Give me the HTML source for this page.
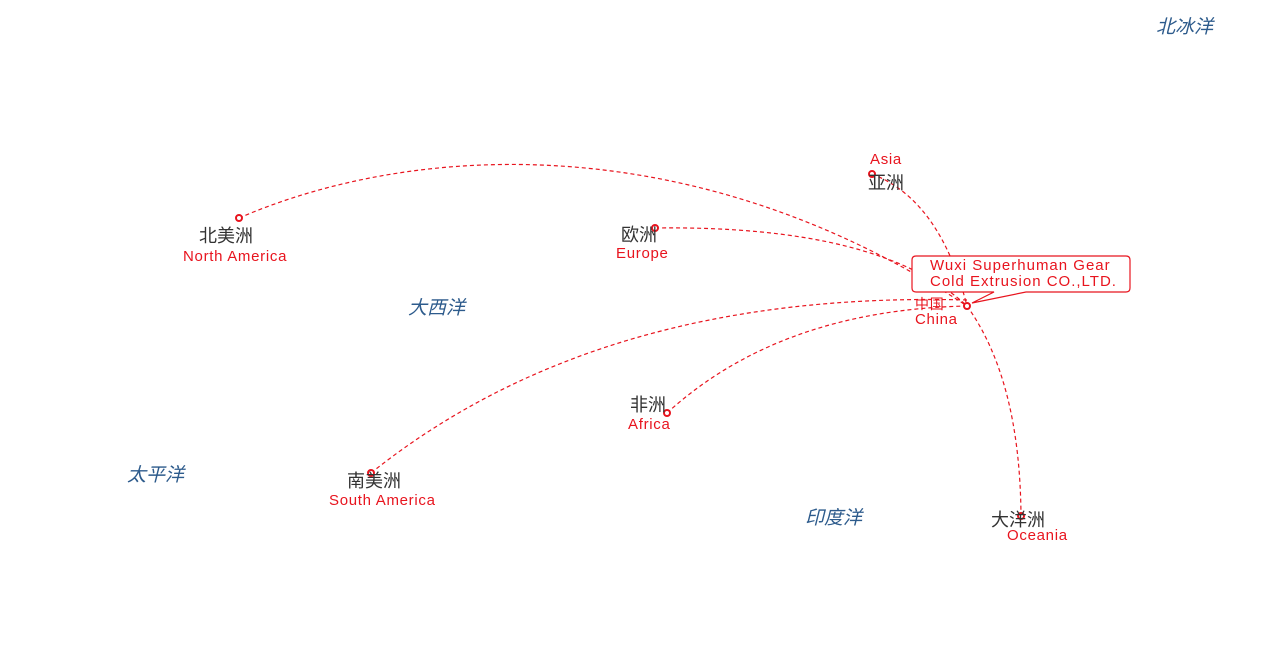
<!DOCTYPE html>
<html><head><meta charset="utf-8"><style>
body{margin:0;width:1272px;height:671px;background:#fff;overflow:hidden;position:relative;font-family:"Liberation Sans","Noto Sans CJK SC",sans-serif}
.t{position:absolute;white-space:nowrap}
.cn{color:#333;font-size:18px;line-height:20px}
.en{color:#e8141e;font-size:15px;letter-spacing:0.7px;line-height:17px}
.oc{color:#2d5b8c;font-size:19px;font-style:italic;line-height:22px}
</style></head><body>
<svg width="1272" height="671" style="position:absolute;left:0;top:0">
<g fill="none" stroke="#e8141e" stroke-width="1.2" stroke-dasharray="4,3">
<path d="M239,218 C420,140 700,130 967,306"/>
<path d="M872,174 Q940,200 967,306"/>
<path d="M655,228 Q880,225 967,306"/>
<path d="M371,473 Q600,290 967,300"/>
<path d="M667,413 Q780,310 967,306"/>
<path d="M967,306 Q1020,380 1021,516"/>
</g>
<g fill="#fff" stroke="#e8141e" stroke-width="2">
<circle cx="239" cy="218" r="3"/><circle cx="872" cy="174" r="3"/><circle cx="655" cy="228" r="3"/>
<circle cx="371" cy="473" r="3"/><circle cx="667" cy="413" r="3"/><circle cx="1021" cy="516" r="3"/><circle cx="967" cy="306" r="3"/>
</g>
<path d="M916,256 H1126 Q1130,256 1130,260 V288 Q1130,292 1126,292 H1026 L972,303 L994,292 H916 Q912,292 912,288 V260 Q912,256 916,256 Z" fill="#fff" stroke="#e8141e" stroke-width="1.2"/>
</svg>
<div class="t en" style="left:930px;top:258px;line-height:16px;letter-spacing:1px">Wuxi Superhuman Gear<br>Cold Extrusion CO.,LTD.</div>
<div class="t cn" style="left:199px;top:226px">北美洲</div><div class="t en" style="left:183px;top:248px">North America</div>
<div class="t en" style="left:870px;top:151px">Asia</div><div class="t cn" style="left:868px;top:173px">亚洲</div>
<div class="t cn" style="left:621px;top:225px">欧洲</div><div class="t en" style="left:616px;top:245px">Europe</div>
<div class="t en" style="left:915px;top:296px;font-size:14px">中国</div><div class="t en" style="left:915px;top:311px">China</div>
<div class="t cn" style="left:630px;top:395px">非洲</div><div class="t en" style="left:628px;top:416px">Africa</div>
<div class="t cn" style="left:347px;top:471px">南美洲</div><div class="t en" style="left:329px;top:492px">South America</div>
<div class="t cn" style="left:991px;top:510px">大洋洲</div><div class="t en" style="left:1007px;top:527px">Oceania</div>
<div class="t oc" style="left:1156px;top:17px">北冰洋</div>
<div class="t oc" style="left:408px;top:298px">大西洋</div>
<div class="t oc" style="left:127px;top:465px">太平洋</div>
<div class="t oc" style="left:805px;top:508px">印度洋</div>
</body></html>
